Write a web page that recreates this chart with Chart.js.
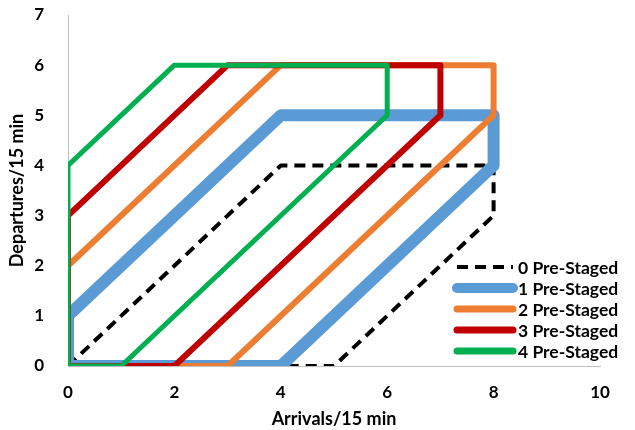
<!DOCTYPE html>
<html>
<head>
<meta charset="utf-8">
<script src="https://cdn.jsdelivr.net/npm/chart.js@4/dist/chart.umd.min.js"></script>
<style>
  html, body { margin: 0; padding: 0; background: #fff; }
  #wrap { width: 635px; height: 430px; }
</style>
</head>
<body>
<div id="wrap"><canvas id="chart" width="635" height="430"></canvas></div>
<script>
// series names
const seriesNames = ['0 Pre-Staged', '1 Pre-Staged', '2 Pre-Staged', '3 Pre-Staged', '4 Pre-Staged'];

// polygon corners, arrivals (x) and departures (y) per series
const arrivals0 = [0, 4, 8, 8, 5, 0];
const departures0 = [0, 4, 4, 3, 0, 0];

const arrivals1 = [0, 0, 4, 8, 8, 4, 0];
const departures1 = [0, 1, 5, 5, 4, 0, 0];

const arrivals2 = [0, 0, 4, 8, 8, 3, 0];
const departures2 = [0, 2, 6, 6, 5, 0, 0];

const arrivals3 = [0, 0, 3, 7, 7, 2, 0];
const departures3 = [0, 3, 6, 6, 5, 0, 0];

const arrivals4 = [0, 0, 2, 6, 6, 1, 0];
const departures4 = [0, 4, 6, 6, 5, 0, 0];

const xTicks = [0, 2, 4, 6, 8, 10];
const yTicks = [0, 1, 2, 3, 4, 5, 6, 7];

const colors = ['#000000', '#5B9BD5', '#ED7D31', '#C00000', '#00B050'];
const widths = [4, 12, 6, 6, 5];
const legendWidths = [4, 10, 7, 7, 7];

function toPoints(xs, ys) {
    return xs.map((x, i) => ({ x: x, y: ys[i] }));
}

const allX = [arrivals0, arrivals1, arrivals2, arrivals3, arrivals4];
const allY = [departures0, departures1, departures2, departures3, departures4];

const datasets = seriesNames.map((name, i) => ({
    label: name,
    data: toPoints(allX[i], allY[i]),
    borderColor: colors[i],
    backgroundColor: colors[i],
    borderWidth: widths[i],
    borderDash: i === 0 ? [11, 7] : [],
    borderJoinStyle: 'round',
    pointRadius: 0,
    showLine: true,
    fill: false,
    tension: 0,
    clip: 0,
    order: 5 - i // green drawn on top
}));

// legend drawn inside the plot, lower right
const insideLegend = {
    id: 'insideLegend',
    afterDraw(chart) {
        const ctx = chart.ctx;
        const area = chart.chartArea;
        const x0 = area.right - 143;
        const x1 = area.right - 87;
        let y = area.bottom - 99;
        ctx.save();
        ctx.font = 'bold 17.5px Lato';
        ctx.textBaseline = 'middle';
        ctx.fillStyle = '#000';
        seriesNames.forEach((name, i) => {
            ctx.beginPath();
            ctx.strokeStyle = colors[i];
            ctx.lineWidth = legendWidths[i];
            ctx.lineCap = i === 0 ? 'butt' : 'round';
            ctx.setLineDash(i === 0 ? [11, 7] : []);
            ctx.moveTo(x0, y);
            ctx.lineTo(x1, y);
            ctx.stroke();
            ctx.setLineDash([]);
            ctx.fillText(name, x1 + 5, y + 1);
            y += 21;
        });
        ctx.restore();
    }
};

new Chart(document.getElementById('chart'), {
    type: 'scatter',
    data: { datasets: datasets },
    options: {
        responsive: false,
        animation: false,
        layout: { padding: { left: 6, right: 35, top: 15, bottom: 0 } },
        plugins: {
            legend: { display: false },
            tooltip: { enabled: false }
        },
        scales: {
            x: {
                type: 'linear',
                min: 0,
                max: 10,
                afterBuildTicks: (axis) => { axis.ticks = xTicks.map(v => ({ value: v })); },
                afterFit: (axis) => { axis.height = 64; },
                grid: { display: false },
                border: { display: true, color: '#BFBFBF', width: 1 },
                ticks: {
                    color: '#000',
                    padding: 8,
                    font: { family: 'Lato', size: 17, weight: 'bold' }
                },
                title: {
                    display: true,
                    text: 'Arrivals/15 min',
                    color: '#000',
                    padding: { top: 0, bottom: 0 },
                    font: { family: 'Lato', size: 18, weight: 'bold' }
                }
            },
            y: {
                type: 'linear',
                min: 0,
                max: 7,
                afterBuildTicks: (axis) => { axis.ticks = yTicks.map(v => ({ value: v })); },
                afterFit: (axis) => {
                    axis.width = 62;
                    axis.paddingTop = 0;
                    axis.paddingBottom = 0;
                },
                grid: { display: false },
                border: { display: true, color: '#BFBFBF', width: 1 },
                ticks: {
                    color: '#000',
                    padding: 16,
                    font: { family: 'Lato', size: 17, weight: 'bold' }
                },
                title: {
                    display: true,
                    text: 'Departures/15 min',
                    color: '#000',
                    padding: { top: 0, bottom: 4 },
                    font: { family: 'Lato', size: 18, weight: 'bold' }
                }
            }
        }
    },
    plugins: [insideLegend]
});
</script>
</body>
</html>
